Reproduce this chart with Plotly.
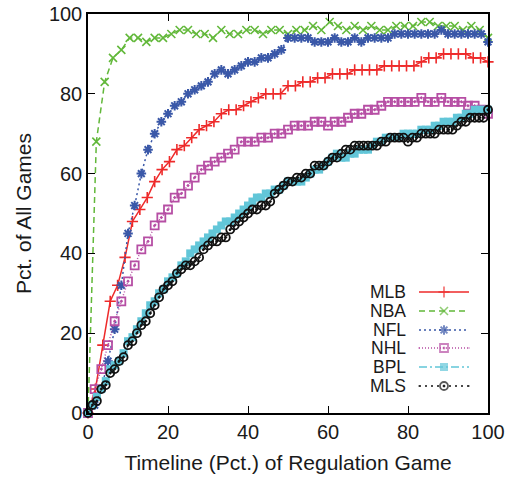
import plotly.graph_objects as go

# ---------------- data ----------------
# periods per game used for the timeline grid (x = pct of regulation game)
mlb_periods = 54   # outs
nba_periods = 48   # minutes
nfl_periods = 60
nhl_periods = 60
bpl_periods = 90
mls_periods = 90

mlb_y = [0, 6, 17, 28, 32, 39, 48, 51, 54, 58, 61, 63, 66, 67, 69, 71, 72, 73, 75, 76,
         76, 77, 78, 79, 80, 80, 80, 82, 82, 83, 83, 84, 84, 85, 85, 85, 86, 86, 86, 86,
         87, 87, 87, 87, 87, 88, 89, 89, 90, 90, 90, 90, 89, 89, 88]

nba_y = [0, 68, 83, 89, 91, 94, 94, 93, 94, 94, 95, 96, 96, 95, 95, 94, 96, 95, 95, 96,
         96, 95, 96, 96, 95, 96, 96, 97, 96, 98, 97, 96, 97, 96, 97, 96, 96, 97, 97, 97,
         98, 98, 97, 97, 97, 96, 97, 96, 94]

nfl_y = [0, 2, 6, 13, 21, 32, 45, 52, 60, 66, 70, 73, 75, 77, 78, 80, 81, 82, 83, 85,
         86, 85, 86, 87, 88, 88, 89, 89, 90, 91, 94, 94, 94, 94, 93, 93, 93, 94, 93, 93,
         94, 93, 94, 94, 94, 94, 95, 95, 95, 95, 95, 95, 95, 96, 95, 95, 95, 95, 95, 95,
         93]

nhl_y = [0, 6, 11, 17, 23, 28, 33, 37, 41, 43, 47, 49, 51, 54, 55, 57, 59, 61, 62, 63,
         64, 65, 66, 68, 68, 68, 69, 69, 70, 70, 71, 72, 72, 72, 73, 73, 72, 73, 73, 74,
         75, 75, 76, 76, 77, 78, 78, 78, 78, 78, 79, 78, 78, 79, 78, 78, 78, 77, 77, 76,
         75]

bpl_y = [0, 2, 4, 6, 8, 11, 12, 13, 15, 18, 19, 21, 23, 25, 27, 28, 30, 31, 33, 34,
         35, 37, 38, 40, 41, 42, 43, 44, 45, 46, 47, 48, 48, 49, 50, 51, 52, 53, 54, 54,
         55, 55, 56, 56, 57, 58, 58, 58, 58, 59, 60, 61, 61, 62, 63, 64, 65, 64, 64, 65,
         65, 66, 66, 66, 67, 68, 68, 69, 69, 69, 69, 70, 70, 70, 70, 71, 71, 71, 72, 72,
         73, 73, 73, 74, 74, 75, 75, 76, 76, 76, 76]

mls_y = [0, 2, 3, 6, 7, 10, 11, 13, 14, 17, 18, 20, 22, 23, 25,
         27, 29, 31, 32, 33, 35, 36, 37, 37, 38, 39, 41, 42, 43, 43, 44, 44, 46, 47, 48,
         49, 50, 51, 51, 52, 52, 53, 55, 56, 57, 58,
         58, 59, 59, 60, 60, 62, 62, 62, 63, 64, 64, 65, 66, 66, 67, 67, 67, 67, 67, 67,
         68, 68, 69, 69, 69, 69, 68, 69, 69, 70, 70, 70, 70, 71, 71, 71, 71, 72, 73, 73,
         74, 74, 74, 74, 76]

leagues = ["MLB", "NBA", "NFL", "NHL", "BPL", "MLS"]
x_ticks = [0, 20, 40, 60, 80, 100]
y_ticks = [0, 20, 40, 60, 80, 100]
x_title = "Timeline (Pct.) of Regulation Game"
y_title = "Pct. of All Games"


def pct_grid(n):
    return [100.0 * i / n for i in range(n + 1)]


series = [
    ("MLB", pct_grid(mlb_periods), mlb_y),
    ("NBA", pct_grid(nba_periods), nba_y),
    ("NFL", pct_grid(nfl_periods), nfl_y),
    ("NHL", pct_grid(nhl_periods), nhl_y),
    ("BPL", pct_grid(bpl_periods), bpl_y),
    ("MLS", pct_grid(mls_periods), mls_y),
]

# ---------------- styles ----------------
styles = {
    "MLB": dict(color="#ee2a2a", dash="solid", symbol="cross-thin-open", size=8, lw=1.6),
    "NBA": dict(color="#62b83a", dash="6px,4px", symbol="x-thin-open", size=8, lw=1.6),
    "NFL": dict(color="#3a58a8", dash="2px,3px", symbol="asterisk-open", size=8, lw=2.0),
    "NHL": dict(color="#b64ea4", dash="1px,2px", symbol="square-open-dot", size=8, lw=1.8),
    "BPL": dict(color="#62c6d8", dash="8px,3px,2px,3px", symbol="square", size=8, lw=0),
    "MLS": dict(color="#111111", dash="2px,4px", symbol="circle-open-dot", size=8, lw=1.8),
}

FONT = "Liberation Sans, Arial, Helvetica, sans-serif"
TXT = "#1a1a1a"

fig = go.Figure()
for name, xs, ys in series:
    s = styles[name]
    fig.add_trace(go.Scatter(
        x=xs, y=ys, mode="lines+markers", name=name, showlegend=False,
        line=dict(color=s["color"], width=1.5, dash=s["dash"]),
        marker=dict(symbol=s["symbol"], size=s["size"], color=s["color"],
                    line=dict(color=s["color"], width=s["lw"])),
        cliponaxis=False,
    ))

# ---------------- custom gnuplot-like key ----------------
L, R, T, B = 88, 488, 14, 413
W, H = R - L, B - T
row_px = [292, 311, 330, 348, 367, 386]
for name, py in zip(leagues, row_px):
    s = styles[name]
    yy = (B - py) / H
    x0, x1, xm = (419 - L) / W, (469 - L) / W, (444 - L) / W
    fig.add_trace(go.Scatter(
        x=[x0, xm, x1], y=[yy, yy, yy], xaxis="x2", yaxis="y2",
        mode="lines+markers", showlegend=False, hoverinfo="skip",
        line=dict(color=s["color"], width=1.5, dash=s["dash"]),
        marker=dict(symbol=s["symbol"], size=[0, s["size"], 0], color=s["color"],
                    line=dict(color=s["color"], width=[0, s["lw"], 0])),
    ))
    fig.add_annotation(x=(408 - L) / W, y=yy, xref="paper", yref="paper",
                       text=name, showarrow=False, xanchor="right", yanchor="middle",
                       font=dict(family=FONT, size=17.5, color=TXT))

axis_common = dict(showgrid=False, zeroline=False, showline=True, linecolor="black",
                   linewidth=1.5, mirror="allticks", ticks="inside", ticklen=7,
                   tickwidth=1.2, tickcolor="black", automargin=False,
                   tickfont=dict(family=FONT, size=20, color=TXT))

fig.update_layout(
    width=511, height=478,
    margin=dict(l=L, r=511 - R, t=T, b=478 - B),
    paper_bgcolor="white", plot_bgcolor="white",
    xaxis=dict(range=[0, 100], tickvals=x_ticks, ticktext=[str(v) for v in x_ticks],
               title=dict(text=x_title, font=dict(family=FONT, size=21, color=TXT),
                          standoff=14),
               **axis_common),
    yaxis=dict(range=[0, 100], tickvals=y_ticks, ticktext=[str(v) for v in y_ticks],
               title=dict(text=y_title, font=dict(family=FONT, size=21, color=TXT),
                          standoff=12),
               **axis_common),
    xaxis2=dict(range=[0, 1], overlaying="x", visible=False),
    yaxis2=dict(range=[0, 1], overlaying="y", visible=False),
)

fig.write_html("out.html")
